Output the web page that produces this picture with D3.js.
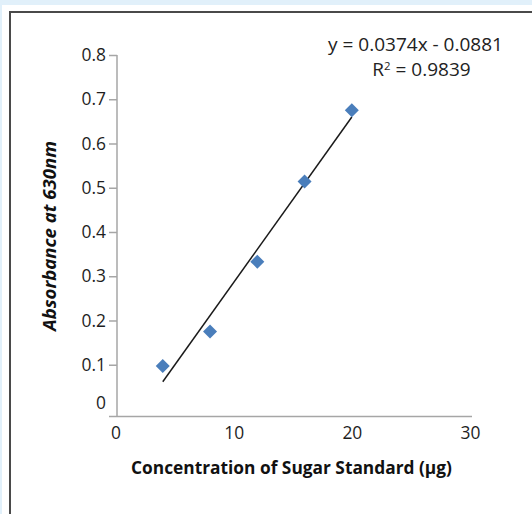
<!DOCTYPE html>
<html>
<head>
<meta charset="utf-8">
<script src="https://cdn.jsdelivr.net/npm/d3@7"></script>
<style>
  body { margin: 0; background: #e1f0fa; }
  svg { display: block; }
</style>
</head>
<body>
<div id="chart"></div>
<script>
// sugar standard curve values
const concentrations = [4, 8, 12, 16, 20];
const absorbances = [0.097, 0.175, 0.333, 0.514, 0.675];
const xTicks = [0, 10, 20, 30];
const yTicks = [0, 0.1, 0.2, 0.3, 0.4, 0.5, 0.6, 0.7, 0.8];
const slope = 0.0374;
const intercept = -0.0881;
const equationText = 'y = 0.0374x - 0.0881';
const rSquared = '0.9839';

const width = 532, height = 514;
const font = '"Open Sans", sans-serif';
const axisColor = '#a6a6a6';

const svg = d3.select('#chart')
    .append('svg')
    .attr('width', width)
    .attr('height', height);

// scale a text's font size so it spans the width seen in the original
function fitWidth(sel, target) {
    const base = 14;
    sel.style('font-size', base + 'px');
    const w = sel.node().getComputedTextLength();
    const size = base * target / w;
    sel.style('font-size', size.toFixed(2) + 'px');
    return size;
}

// white panel + dark frame
svg.append('rect')
    .attr('x', 2).attr('y', 5)
    .attr('width', width).attr('height', height)
    .attr('fill', '#fff');

svg.append('rect')
    .attr('x', 10).attr('y', 12)
    .attr('width', width + 20).attr('height', height + 20)
    .attr('fill', 'none')
    .attr('stroke', '#4a4a4a')
    .attr('stroke-width', 2);

const x = d3.scaleLinear().domain([0, 30]).range([115.5, 470]);
const y = d3.scaleLinear().domain([-0.017, 0.8]).range([416.5, 55]);

// work out the tick label size from "0.8"
const probe = svg.append('text').style('font-family', font).text('0.8');
const tickSize = fitWidth(probe, 24.5);
probe.remove();

// y axis
const yAxis = svg.append('g')
    .attr('transform', 'translate(117,0)')
    .call(d3.axisLeft(y).tickValues(yTicks).tickSize(8).tickPadding(3)
        .tickFormat(d => d === 0 ? '0' : d3.format('.1f')(d)));

yAxis.select('.domain').remove();
yAxis.append('line')
    .attr('x1', 0).attr('x2', 0)
    .attr('y1', y(0.8)).attr('y2', y.range()[0])
    .attr('stroke', axisColor).attr('stroke-width', 1.5);
yAxis.selectAll('.tick line').attr('stroke', axisColor).attr('stroke-width', 1.5);
yAxis.selectAll('.tick text')
    .attr('fill', '#1e1e1e')
    .style('font-family', font)
    .style('font-size', tickSize + 'px');
// zero label sits above the x axis without its own tick
yAxis.selectAll('.tick').filter(d => d === 0).select('line').remove();
yAxis.selectAll('.tick').filter(d => d === 0).select('text').attr('dy', '-0.05em');

// x axis
const xAxis = svg.append('g')
    .attr('transform', `translate(0,${y.range()[0]})`)
    .call(d3.axisBottom(x).tickValues(xTicks).tickSize(0).tickPadding(10));

xAxis.select('.domain').remove();
xAxis.append('line')
    .attr('x1', 109).attr('x2', 472)
    .attr('y1', 0).attr('y2', 0)
    .attr('stroke', axisColor).attr('stroke-width', 1.5);
xAxis.selectAll('.tick text')
    .attr('fill', '#1e1e1e')
    .style('font-family', font)
    .style('font-size', tickSize + 'px');

// trend line
const xMin = d3.min(concentrations), xMax = d3.max(concentrations);
svg.append('line')
    .attr('x1', x(xMin)).attr('y1', y(slope * xMin + intercept))
    .attr('x2', x(xMax)).attr('y2', y(slope * xMax + intercept))
    .attr('stroke', '#1a1a1a')
    .attr('stroke-width', 1.5);

// markers
const points = concentrations.map((c, i) => ({c: c, a: absorbances[i]}));
svg.selectAll('.pt')
    .data(points)
    .enter()
    .append('path')
    .attr('class', 'pt')
    .attr('d', d3.symbol().type(d3.symbolSquare).size(98))
    .attr('transform', d => `translate(${x(d.c)},${y(d.a)}) rotate(45)`)
    .attr('fill', '#4a7ebb');

// equation
const eq = svg.append('text')
    .attr('x', 415.5).attr('y', 51)
    .attr('text-anchor', 'middle')
    .attr('fill', '#222')
    .style('font-family', font)
    .text(equationText);
const eqSize = fitWidth(eq, 175);

const r2 = svg.append('text')
    .attr('x', 421.5).attr('y', 76)
    .attr('text-anchor', 'middle')
    .attr('fill', '#222')
    .style('font-family', font)
    .style('font-size', eqSize + 'px');
r2.append('tspan').text('R');
r2.append('tspan').attr('dy', -6).style('font-size', (eqSize * 0.6) + 'px').text('2');
r2.append('tspan').attr('dy', 6).text(' = ' + rSquared);

// axis titles
const xTitle = svg.append('text')
    .attr('x', 291.5).attr('y', 474)
    .attr('text-anchor', 'middle')
    .attr('fill', '#111')
    .style('font-family', font)
    .style('font-weight', 'bold')
    .text('Concentration of Sugar Standard (μg)');
fitWidth(xTitle, 321);

const yTitle = svg.append('text')
    .attr('transform', 'translate(56,236) rotate(-90)')
    .attr('text-anchor', 'middle')
    .attr('fill', '#111')
    .style('font-family', font)
    .style('font-weight', 'bold')
    .style('font-style', 'italic')
    .text('Absorbance at 630nm');
fitWidth(yTitle, 190);
</script>
</body>
</html>
